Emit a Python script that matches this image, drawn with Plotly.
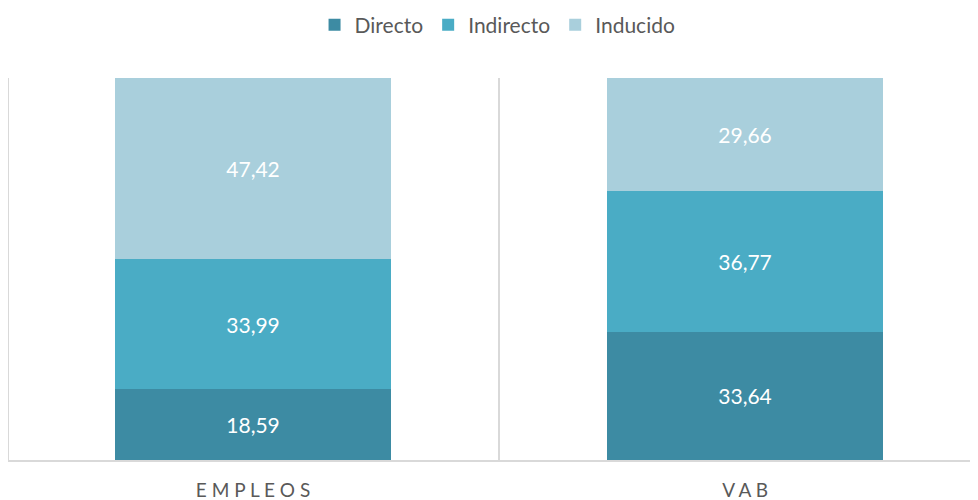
import plotly.graph_objects as go

categories = [0, 1]
category_labels = ["E M P L E O S", "V A B"]
directo = [18.59, 33.64]
indirecto = [33.99, 36.77]
inducido = [47.42, 29.66]

colors = {"Directo": "#3d8ba3", "Indirecto": "#4aacc5", "Inducido": "#a9cfdc"}

fig = go.Figure()
for name, vals in [("Directo", directo), ("Indirecto", indirecto), ("Inducido", inducido)]:
    fig.add_trace(go.Bar(
        x=categories, y=vals, name=name, width=0.56,
        marker=dict(color=colors[name], line=dict(width=0)),
        texttemplate="%{y:.2f}", textposition="inside", insidetextanchor="middle",
        textfont=dict(color="white", size=21, family="Lato"),
    ))

fig.update_layout(
    barmode="stack",
    separators=",.",
    width=984, height=500,
    margin=dict(l=1, r=0, t=70, b=48),
    paper_bgcolor="white", plot_bgcolor="white",
    font=dict(family="Lato", color="#595959"),
    legend=dict(orientation="h", x=0.497, xanchor="center", y=0.966, yref="container",
                yanchor="middle", font=dict(size=21, color="#595959"),
                itemwidth=30, traceorder="normal"),
    xaxis=dict(range=[-0.496, 1.502], tickvals=categories, ticktext=category_labels,
               showgrid=False, showline=True, linecolor="#d9d9d9", linewidth=2,
               tickfont=dict(size=19, color="#595959"), ticks="", zeroline=False,
               ticklabelstandoff=12,
               minor=dict(tickvals=[0.5], showgrid=True, gridcolor="#d9d9d9", gridwidth=2)),
    yaxis=dict(range=[0, 100], showticklabels=False, showgrid=False, zeroline=False,
               showline=True, linecolor="#d9d9d9", linewidth=2),
    showlegend=True,
)
fig.write_html("out.html")
